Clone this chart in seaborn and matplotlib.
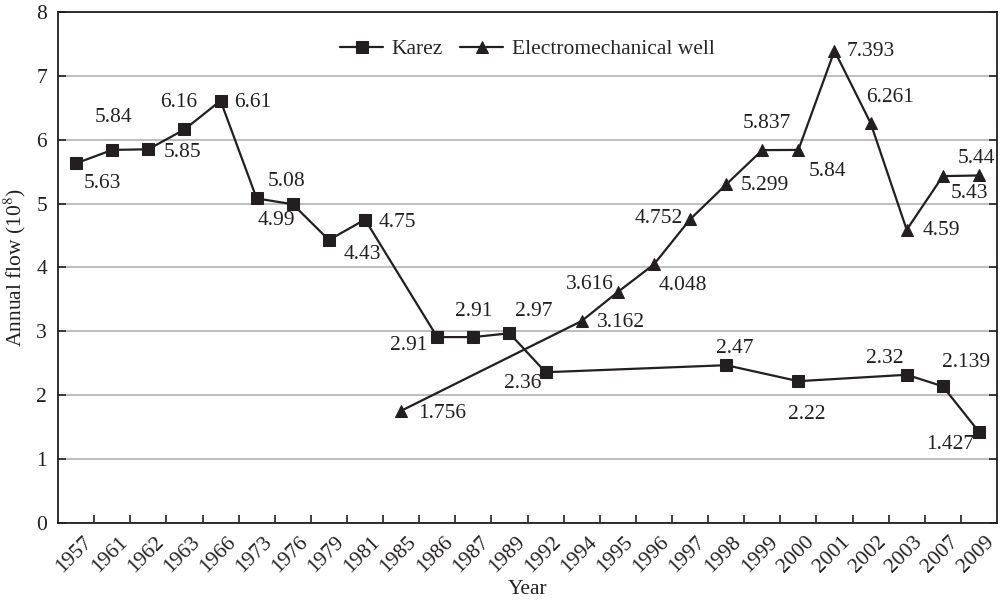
import numpy as np
import pandas as pd
import matplotlib
matplotlib.use("Agg")
import matplotlib.pyplot as plt
from matplotlib.transforms import ScaledTranslation
import seaborn as sns

# Category axis (years shown in order, evenly spaced)
years = ["1957", "1961", "1962", "1963", "1966", "1973", "1976", "1979", "1981",
         "1985", "1986", "1987", "1989", "1992", "1994", "1995", "1996", "1997",
         "1998", "1999", "2000", "2001", "2002", "2003", "2007", "2009"]

# Karez annual flow (10^8)
karez_years = ["1957", "1961", "1962", "1963", "1966", "1973", "1976", "1979", "1981",
               "1986", "1987", "1989", "1992", "1998", "2000", "2003", "2007", "2009"]
karez_flow = [5.63, 5.84, 5.85, 6.16, 6.61, 5.08, 4.99, 4.43, 4.75,
              2.91, 2.91, 2.97, 2.36, 2.47, 2.22, 2.32, 2.139, 1.427]
karez_text = ["5.63", "5.84", "5.85", "6.16", "6.61", "5.08", "4.99", "4.43", "4.75",
              "2.91", "2.91", "2.97", "2.36", "2.47", "2.22", "2.32", "2.139", "1.427"]

# Electromechanical well annual flow (10^8)
well_years = ["1985", "1994", "1995", "1996", "1997", "1998", "1999", "2000",
              "2001", "2002", "2003", "2007", "2009"]
well_flow = [1.756, 3.162, 3.616, 4.048, 4.752, 5.299, 5.837, 5.84,
             7.393, 6.261, 4.59, 5.43, 5.44]
well_text = ["1.756", "3.162", "3.616", "4.048", "4.752", "5.299", "5.837", "5.84",
             "7.393", "6.261", "4.59", "5.43", "5.44"]

# Label placement (pixel offsets from each marker: right, down)
karez_offsets = [(26, 20), (1, -32), (34, 3), (-6, -27), (32, 2), (30, -17), (-16, 16),
                 (33, 15), (32, 3), (-29, 8), (0, -26), (24, -22), (-23, 11), (9, -17),
                 (8, 33), (-22, -16), (23, -24), (-29, 13)]
well_offsets = [(41, 3), (39, 2), (-28, -7), (29, 21), (-31, -1), (39, 1), (5, -27),
                (29, 22), (36, 1), (19, -26), (35, 1), (27, 17), (-3, -17)]

INK = "#231f20"
GRID = "#b4b4b4"
FS = 15.5

sns.set_theme(style="white")
plt.rcParams["font.family"] = ["Liberation Serif", "DejaVu Serif"]
plt.rcParams["mathtext.fontset"] = "stix"

pos = {y: i for i, y in enumerate(years)}
karez_df = pd.DataFrame({"x": [pos[y] for y in karez_years], "flow": karez_flow})
well_df = pd.DataFrame({"x": [pos[y] for y in well_years], "flow": well_flow})

fig = plt.figure(figsize=(10.01, 6.03), dpi=100)
ax = fig.add_axes([0.058, 0.1327, 0.938, 0.8475])

sns.lineplot(data=karez_df, x="x", y="flow", ax=ax, color=INK, lw=1.6,
             marker="s", markersize=8.5, markeredgecolor=INK, label="Karez")
sns.lineplot(data=well_df, x="x", y="flow", ax=ax, color=INK, lw=1.6,
             marker="^", markersize=8.5, markeredgecolor=INK,
             label="Electromechanical well")

for df, texts, offs in ((karez_df, karez_text, karez_offsets),
                        (well_df, well_text, well_offsets)):
    for xv, yv, t, (dx, dy) in zip(df["x"], df["flow"], texts, offs):
        ax.annotate(t, (xv, yv), xytext=(dx, -dy), textcoords="offset pixels",
                    ha="center", va="center", fontsize=FS, color=INK)

ax.set_xlim(-0.5, len(years) - 0.5)
ax.set_ylim(0, 8)
ax.set_yticks(range(0, 9))
ax.yaxis.grid(True, color=GRID, lw=1.2)
ax.set_axisbelow(True)

ax.set_xticks(range(len(years)))
ax.set_xticklabels(years, rotation=45, ha="right", rotation_mode="anchor")
ax.set_xticks(np.arange(0.5, len(years) - 0.5, 1), minor=True)
ax.tick_params(axis="x", which="major", length=0, pad=7, labelsize=FS, colors=INK)
ax.tick_params(axis="x", which="minor", direction="in", length=6, width=1.2,
               color=INK, bottom=True)
ax.tick_params(axis="y", direction="in", length=6, width=1.2, color=INK,
               left=True, right=True, labelsize=FS, labelcolor=INK, pad=8)

for lab in ax.get_xticklabels():
    lab.set_transform(lab.get_transform() + ScaledTranslation(6 / 100, 0, fig.dpi_scale_trans))

for s in ax.spines.values():
    s.set_color(INK)
    s.set_linewidth(1.3)

ax.set_xlabel("Year", fontsize=FS, color=INK, labelpad=2)
ax.set_ylabel("Annual flow (10$^{8}$)", fontsize=FS, color=INK, labelpad=6)

ax.legend(loc="upper center", bbox_to_anchor=(0.5, 0.985), ncol=2, frameon=False,
          fontsize=FS, handlelength=2.0, columnspacing=0.8, handletextpad=0.4)

fig.savefig("out.png", dpi=100)
